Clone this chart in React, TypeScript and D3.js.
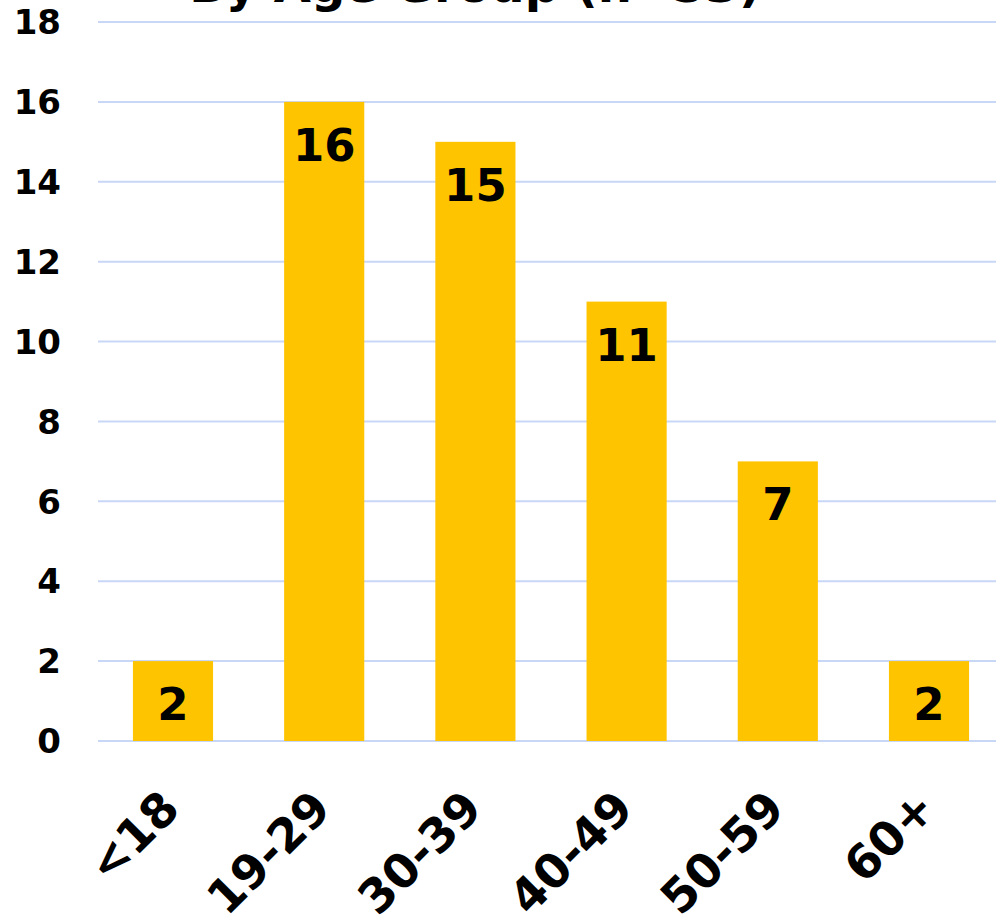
import React from "react";
import * as d3 from "d3";

const categories = ["<18", "19-29", "30-39", "40-49", "50-59", "60+"];
const counts = [2, 16, 15, 11, 7, 2];
const yTicks = [0, 2, 4, 6, 8, 10, 12, 14, 16, 18];
const title = "By Age Group (n=53)";

const W = 996;
const H = 919;
const FONT = "'DejaVu Sans', Verdana, sans-serif";

export default function App() {
  const x = d3
    .scaleBand<string>()
    .domain(categories)
    .range([97.4, 1004.6])
    .paddingInner(0.47)
    .paddingOuter(0.235);
  const y = d3.scaleLinear().domain([0, 18]).range([741, 22]);

  return (
    <svg
      width={W}
      height={H}
      style={{ position: "absolute", left: 0, top: 0, background: "#fff" }}
      fontFamily={FONT}
      fontWeight="bold"
    >
      <text x={475} y={2} textAnchor="middle" fontSize={48} fill="#000">
        {title}
      </text>
      {yTicks.map((t) => (
        <g key={t}>
          <line x1={98} x2={W} y1={y(t)} y2={y(t)} stroke="#C9D7F7" strokeWidth={2} />
          <text x={61} y={y(t)} dy="0.36em" textAnchor="end" fontSize={34} fill="#000">
            {t}
          </text>
        </g>
      ))}
      {categories.map((c, i) => {
        const bx = x(c)!;
        const bw = x.bandwidth();
        const cx = bx + bw / 2;
        return (
          <g key={c}>
            <rect x={bx} y={y(counts[i])} width={bw} height={y(0) - y(counts[i])} fill="#FFC400" />
            <text x={cx} y={y(counts[i]) + 59} textAnchor="middle" fontSize={45} fill="#000">
              {counts[i]}
            </text>
            <text
              transform={`translate(${cx + 9},${811}) rotate(-45)`}
              textAnchor="end"
              fontSize={47}
              fill="#000"
            >
              {c}
            </text>
          </g>
        );
      })}
    </svg>
  );
}
